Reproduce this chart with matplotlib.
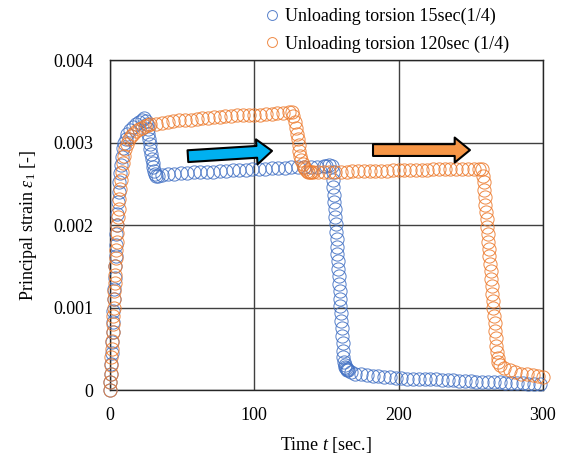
import matplotlib
matplotlib.use("Agg")
import matplotlib.pyplot as plt
from matplotlib.patches import FancyArrowPatch

plt.rcParams['font.family'] = ['Liberation Serif', 'DejaVu Serif']
plt.rcParams['mathtext.fontset'] = 'custom'
plt.rcParams['mathtext.rm'] = 'Liberation Serif'
plt.rcParams['mathtext.it'] = 'Liberation Serif:italic'

# Unloading torsion 15sec (1/4)
t_15 = [0, 0.3, 0.6, 0.9, 1.2, 1.5, 1.8, 2.1, 2.4, 2.7, 3.0, 3.3, 3.6, 3.9, 4.2, 4.5,
        4.8, 5.2, 5.6, 6.0, 6.5, 7.0, 7.5, 8.0, 9, 10, 11, 12, 14, 16, 18, 20, 22, 23.5,
        25, 25.5, 26, 26.5, 27, 27.5, 28, 28.5, 29, 29.5, 30, 30.5, 31, 32, 33,
        36, 40, 44.5, 49, 53.5, 58, 62.5, 67, 71.5, 76, 80.5, 85, 89.5, 94, 98.5, 103,
        107.5, 112, 116.5, 121, 125.5, 130, 134.5, 139, 143.5, 148, 150, 152,
        154.0, 154.3, 154.6, 154.9, 155.2, 155.5, 155.8, 156.1, 156.4, 156.7, 157.0,
        157.3, 157.6, 157.9, 158.2, 158.5, 158.8, 159.1, 159.4, 159.7, 160.0, 160.3,
        160.6, 160.9, 161.2, 161.5, 161.8, 162.2, 162.6, 163.0, 163.5, 164.0, 164.5,
        165, 167, 170, 174, 178, 182, 186, 190, 194, 198, 202, 206, 210, 214, 218, 222,
        226, 230, 234, 238, 242, 246, 250, 254, 258, 262, 266, 270, 274, 278, 282, 286,
        290, 294, 298]
e_15 = [0, 0.0001, 0.0002, 0.00032, 0.00045, 0.00058, 0.0007, 0.00083, 0.00096, 0.0011,
        0.00123, 0.00136, 0.0015, 0.00163, 0.00176, 0.00189, 0.002, 0.00214, 0.00228,
        0.0024, 0.00252, 0.00263, 0.00273, 0.00282, 0.00293, 0.003, 0.00305, 0.0031,
        0.00315, 0.00319, 0.00322, 0.00325, 0.00328, 0.0033,
        0.00326, 0.00322, 0.00316, 0.0031, 0.00304, 0.00298, 0.00292, 0.00286, 0.0028,
        0.00275, 0.0027, 0.00266, 0.00262, 0.0026, 0.0026,
        0.00261, 0.00262, 0.00262, 0.00263, 0.00263, 0.00264, 0.00264, 0.00265, 0.00265,
        0.00266, 0.00266, 0.00267, 0.00267, 0.00267, 0.00268, 0.00268, 0.00268, 0.00269,
        0.00269, 0.00269, 0.0027, 0.0027, 0.0027, 0.00271, 0.00271, 0.00272, 0.00272,
        0.00273,
        0.00272, 0.00264, 0.00255, 0.00246, 0.00237, 0.00228, 0.00219, 0.0021, 0.00201,
        0.00192, 0.00183, 0.00174, 0.00165, 0.00156, 0.00147, 0.00138, 0.00129, 0.0012,
        0.00111, 0.00102, 0.00093, 0.00084, 0.00075, 0.00066, 0.00057, 0.00048, 0.0004,
        0.00034, 0.0003, 0.00028, 0.00027, 0.00026, 0.00025,
        0.00024, 0.00022, 0.0002, 0.00019, 0.00018, 0.00017, 0.00017, 0.00016, 0.00016,
        0.00015, 0.00015, 0.00014, 0.00014, 0.00014, 0.00013, 0.00013, 0.00013, 0.00012,
        0.00012, 0.00012, 0.00011, 0.00011, 0.00011, 0.0001, 0.0001, 0.0001, 0.0001,
        0.0001, 0.00009, 0.00009, 0.00009, 0.00009, 0.00008, 0.00008, 0.00008]

# Unloading torsion 120sec (1/4)
t_120 = [0, 0.25, 0.5, 0.75, 1.0, 1.25, 1.5, 1.75, 2.0, 2.25, 2.5, 2.75, 3.0, 3.25, 3.5,
         3.75, 4.0, 4.3, 4.6, 4.9, 5.2, 5.6, 6.0, 6.5, 7.0, 7.5, 8.0, 8.7, 9.5, 10.5,
         11.5, 13, 14.5, 16, 18, 20, 22, 24, 26, 28,
         32, 36, 40, 44, 48, 52, 56, 60, 64, 68, 72, 76, 80, 84, 88, 92, 96, 100, 104,
         108, 112, 116, 120, 124, 126,
         127, 128, 128.7, 129.3, 130, 130.7, 131.3, 132, 132.7, 133.5, 134.5, 135.5,
         136.5, 137.5, 138.5, 139.5, 140.5,
         144, 148, 152, 156, 160, 164, 168, 172, 176, 180, 184, 188, 192, 196, 200, 204,
         208, 212, 216, 220, 224, 228, 232, 236, 240, 244, 248, 252, 256,
         258, 258.5, 259, 259.4, 259.8, 260.2, 260.6, 261, 261.4, 261.8, 262.2, 262.6,
         263, 263.4, 263.8, 264.2, 264.6, 265, 265.4, 265.8, 266.2, 266.6, 267, 267.4,
         267.8, 268.2, 268.6, 269, 270, 273, 277, 281, 285, 289, 293, 297, 300]
e_120 = [0, 0.0001, 0.0002, 0.0003, 0.0004, 0.0005, 0.0006, 0.0007, 0.0008, 0.0009,
         0.001, 0.0011, 0.0012, 0.0013, 0.0014, 0.0015, 0.0016, 0.0017, 0.0018, 0.0019,
         0.002, 0.0021, 0.0022, 0.00232, 0.00244, 0.00255, 0.00265, 0.00275, 0.00284,
         0.00292, 0.00298, 0.00304, 0.00308, 0.00311, 0.00314, 0.00316, 0.00318, 0.0032,
         0.00321, 0.00322,
         0.00323, 0.00324, 0.00325, 0.00326, 0.00327, 0.00328, 0.00328, 0.00329, 0.0033,
         0.0033, 0.00331, 0.00331, 0.00332, 0.00332, 0.00333, 0.00333, 0.00334, 0.00334,
         0.00334, 0.00335, 0.00335, 0.00336, 0.00336, 0.00337, 0.00337,
         0.00332, 0.00325, 0.00318, 0.00311, 0.00304, 0.00297, 0.0029, 0.00284, 0.00279,
         0.00274, 0.0027, 0.00268, 0.00266, 0.00265, 0.00264, 0.00264, 0.00264,
         0.00264, 0.00265, 0.00265, 0.00265, 0.00265, 0.00265, 0.00266, 0.00266, 0.00266,
         0.00266, 0.00266, 0.00266, 0.00266, 0.00267, 0.00267, 0.00267, 0.00267, 0.00267,
         0.00267, 0.00267, 0.00268, 0.00268, 0.00268, 0.00268, 0.00268, 0.00268, 0.00268,
         0.00268, 0.00268,
         0.00268, 0.0026, 0.00252, 0.00243, 0.00234, 0.00225, 0.00216, 0.00207, 0.00198,
         0.00189, 0.0018, 0.00171, 0.00162, 0.00153, 0.00144, 0.00135, 0.00126, 0.00117,
         0.00108, 0.00099, 0.0009, 0.00081, 0.00072, 0.00063, 0.00054, 0.00046, 0.00039,
         0.00034, 0.0003, 0.00027, 0.00024, 0.00022, 0.0002, 0.00019, 0.00018, 0.00017,
         0.00016]

fig = plt.figure(figsize=(5.72, 4.59), dpi=100)
ax = fig.add_axes([0.1923, 0.150, 0.7567, 0.719])

ax.plot(t_15, e_15, 'o', ms=9.5, mfc='none', mec='#4472C4', mew=0.7, alpha=0.9,
        clip_on=False, label='Unloading torsion 15sec(1/4)', zorder=3)
ax.plot(t_120, e_120, 'o', ms=9.5, mfc='none', mec='#ED7D31', mew=0.7, alpha=0.9,
        clip_on=False, label='Unloading torsion 120sec (1/4)', zorder=3)

# direction arrows
for (x0, y0), (x1, y1), col in [((54, 0.002836), (112.3, 0.0029), '#00B0F0'),
                                ((182.3, 0.00291), (249.5, 0.00291), '#F79646')]:
    arr = FancyArrowPatch((x0, y0), (x1, y1),
                          arrowstyle='simple,head_length=1.1,head_width=1.8,tail_width=0.85',
                          mutation_scale=10, shrinkA=0, shrinkB=0,
                          fc=col, ec='black', lw=1.5, zorder=4)
    ax.add_patch(arr)

ax.set_xlim(0, 300)
ax.set_ylim(0, 0.004)
ax.set_xticks([0, 100, 200, 300])
ax.set_yticks([0, 0.001, 0.002, 0.003, 0.004])
ax.set_yticklabels(['0', '0.001', '0.002', '0.003', '0.004'])
ax.tick_params(length=0, pad=12, labelsize=13)
ax.grid(True, color='#404040', lw=1.0)
ax.set_axisbelow(True)
for s in ax.spines.values():
    s.set_color('#262626')
    s.set_linewidth(1.0)

ax.set_xlabel('Time $t$ [sec.]', fontsize=13, labelpad=8)
ax.set_ylabel(r'Principal strain $\varepsilon_1$ [-]', fontsize=13, labelpad=10)

fig.legend(loc='upper left', bbox_to_anchor=(0.438, 1.018), frameon=False,
           fontsize=13, handlelength=0.6, handletextpad=0.4, labelspacing=0.55,
           markerscale=0.75)

fig.savefig('out.png', dpi=100)
